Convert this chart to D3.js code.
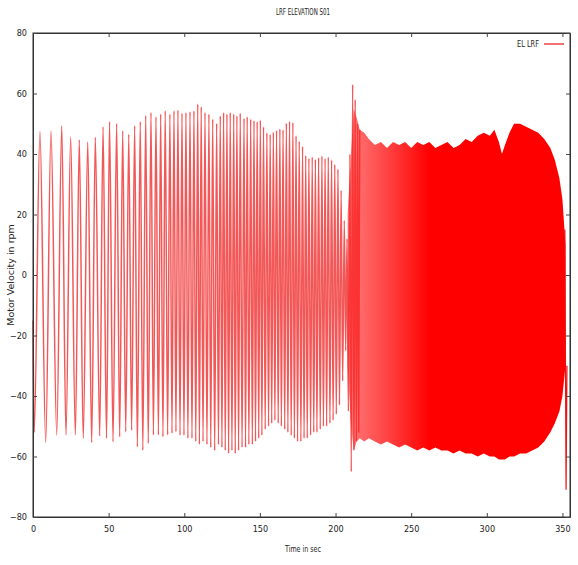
<!DOCTYPE html>
<html>
<head>
<meta charset="utf-8">
<script src="https://cdn.jsdelivr.net/npm/d3@7"></script>
<style>
  body { margin: 0; background: #fff; }
  text { font-family: "Liberation Sans Narrow", "DejaVu Sans Condensed", "Liberation Sans", sans-serif; fill: #222; }
</style>
</head>
<body>
<div id="chart"></div>
<script>
// values (time in sec, velocity in rpm)

const xTicks = [0, 50, 100, 150, 200, 250, 300, 350];
const yTicks = [-80, -60, -40, -20, 0, 20, 40, 60, 80];

// start of the trace
const startT = [0];
const startV = [-15];

// upper turning points of the sparse part
const peakT = [4.6, 11.9, 19.0, 24.9, 30.6, 36.2, 41.2, 46.3, 50.6, 55.3,
    59.3, 63.3, 67.2, 70.9, 74.5, 78.0, 81.3, 84.4, 87.4, 90.5,
    93.2, 95.8, 98.5, 101.1, 103.8, 106.4, 108.9, 111.2, 113.7, 116.3,
    118.8, 121.4, 123.8, 126.0, 128.2, 130.4, 132.7, 134.8, 137.0, 139.5,
    141.6, 143.9, 146.1, 148.2, 150.3, 152.4, 154.6, 156.8, 158.9, 161.0,
    163.2, 165.3, 167.5, 169.6, 171.8, 173.9, 176.0, 178.2, 180.3, 182.4,
    184.6, 186.7, 188.8, 191.0, 193.1, 195.2, 197.4, 199.5, 201.6, 203.7,
    205.8, 207.6, 209.5, 211.3, 213.0, 214.6, 216.0];
const peakV = [47.4, 47.6, 49.3, 45.7, 44.6, 44.0, 45.5, 49.0, 50.7, 50.1,
    47.7, 46.5, 49.3, 50.7, 52.7, 53.7, 52.3, 53.2, 54.3, 53.2,
    54.3, 54.5, 53.5, 53.7, 54.0, 54.3, 56.5, 55.6, 53.7, 53.2,
    51.5, 50.1, 52.6, 53.7, 53.2, 53.7, 53.2, 52.6, 53.5, 51.8,
    52.3, 51.5, 51.0, 50.7, 51.2, 49.0, 47.0, 46.5, 47.2, 47.8,
    48.3, 48.0, 50.2, 50.8, 50.4, 46.0, 44.2, 42.5, 39.5, 38.6,
    39.0, 38.2, 38.8, 39.3, 38.5, 39.0, 38.0, 36.5, 35.0, 28.0,
    18.0, 12.0, 40.0, 63.0, 58.0, 50.0, 48.0];

// lower turning points of the sparse part
const troughT = [0.8, 8.4, 15.7, 21.8, 28.0, 33.2, 38.8, 44.1, 48.6, 52.9,
    57.3, 61.3, 65.2, 69.0, 72.6, 76.2, 79.6, 82.9, 85.9, 89.0,
    91.9, 94.5, 97.2, 99.8, 102.4, 105.1, 107.6, 110.0, 112.4, 115.0,
    117.5, 120.1, 122.6, 124.9, 127.1, 129.3, 131.5, 133.7, 135.9, 138.2,
    140.5, 142.7, 145.0, 147.1, 149.2, 151.3, 153.5, 155.7, 157.8, 159.9,
    162.1, 164.2, 166.4, 168.5, 170.7, 172.8, 174.9, 177.1, 179.2, 181.3,
    183.5, 185.6, 187.7, 189.9, 192.0, 194.1, 196.3, 198.4, 200.5, 202.6,
    204.7, 206.7, 208.5, 210.4, 212.2, 213.8, 215.3];
const troughV = [-52.0, -55.4, -52.9, -52.9, -52.9, -54.0, -55.4, -53.2, -54.0, -55.1,
    -53.5, -51.8, -51.3, -56.8, -57.9, -55.6, -52.9, -52.9, -53.5, -52.9,
    -52.3, -51.8, -53.0, -53.0, -54.0, -54.0, -55.0, -56.0, -55.0, -56.0,
    -57.0, -58.0, -56.0, -57.0, -58.0, -59.0, -58.0, -59.0, -58.0, -57.0,
    -57.0, -56.0, -56.0, -55.0, -54.0, -53.0, -51.0, -50.0, -49.0, -48.0,
    -49.0, -50.0, -51.0, -52.0, -53.0, -54.0, -55.0, -55.0, -54.0, -54.0,
    -53.0, -52.0, -52.0, -51.0, -50.0, -50.0, -49.0, -48.0, -46.0, -43.0,
    -35.0, -25.0, -45.0, -65.0, -58.0, -55.0, -52.0];

// envelope of the dense part
const envT = [208, 210, 212, 214, 216, 219, 222, 226, 230, 234,
    238, 242, 246, 250, 254, 258, 262, 266, 270, 274,
    278, 282, 286, 290, 294, 298, 302, 305, 308, 310,
    312, 315, 318, 322, 326, 330, 334, 338, 342, 345,
    348, 350, 352];
const envHigh = [20, 38, 55, 52, 48, 47, 45, 43, 44, 42,
    44, 43, 44, 42, 44, 43, 44, 42, 43, 44,
    42, 43, 45, 44, 46, 47, 46, 48, 44, 40,
    43, 47, 50, 50, 49, 48, 47, 45, 42, 38,
    32, 25, 10];
const envLow = [-30, -48, -58, -55, -54, -55, -54, -55, -56, -55,
    -56, -57, -56, -57, -58, -57, -58, -57, -58, -58,
    -59, -58, -59, -59, -60, -59, -60, -60, -61, -61,
    -61, -60, -60, -59, -59, -58, -57, -55, -52, -49,
    -45, -40, -30];

// last swing at the right edge
const tailT = [351.6, 352.4, 353.0];
const tailV = [15, -71, -30];

const seriesName = "EL LRF";
const lineColor = "#ee1111";

const width = 578, height = 565;
const margin = {top: 33, right: 8, bottom: 48, left: 33};

const svg = d3.select("#chart").append("svg")
    .attr("width", width)
    .attr("height", height);

const x = d3.scaleLinear().domain([0, 355]).range([margin.left, width - margin.right]);
const y = d3.scaleLinear().domain([-80, 80]).range([height - margin.bottom, margin.top]);

// put the turning points together in time order
let pts = [];
startT.forEach((t, i) => pts.push([t, startV[i]]));
peakT.forEach((t, i) => pts.push([t, peakV[i]]));
troughT.forEach((t, i) => pts.push([t, troughV[i]]));
pts.sort((a, b) => a[0] - b[0]);

const env = envT.map((t, i) => ({t: t, hi: envHigh[i], lo: envLow[i]}));
const tail = tailT.map((t, i) => [t, tailV[i]]);

// fading in of the dense block
const grad = svg.append("defs").append("linearGradient")
    .attr("id", "dense")
    .attr("gradientUnits", "userSpaceOnUse")
    .attr("x1", x(208)).attr("x2", x(262))
    .attr("y1", 0).attr("y2", 0);
grad.append("stop").attr("offset", 0).attr("stop-color", "#f22").attr("stop-opacity", 0.6);
grad.append("stop").attr("offset", 1).attr("stop-color", "#f00").attr("stop-opacity", 1);

const line = d3.line()
    .x(d => x(d[0]))
    .y(d => y(d[1]))
    .curve(d3.curveMonotoneX);

svg.append("path")
    .datum(pts)
    .attr("fill", "none")
    .attr("stroke", lineColor)
    .attr("stroke-opacity", 0.7)
    .attr("stroke-width", 1.5)
    .attr("d", line);

svg.append("path")
    .datum(env)
    .attr("fill", "url(#dense)")
    .attr("d", d3.area()
        .x(d => x(d.t))
        .y0(d => y(d.lo))
        .y1(d => y(d.hi)));

svg.append("path")
    .datum(tail)
    .attr("fill", "none")
    .attr("stroke", lineColor)
    .attr("stroke-width", 1.2)
    .attr("d", d3.line().x(d => x(d[0])).y(d => y(d[1])));

// frame and inward ticks
svg.append("rect")
    .attr("x", margin.left).attr("y", margin.top)
    .attr("width", width - margin.left - margin.right)
    .attr("height", height - margin.top - margin.bottom)
    .attr("fill", "none")
    .attr("stroke", "#333");

svg.append("g")
    .attr("transform", `translate(0,${height - margin.bottom})`)
    .call(d3.axisBottom(x).tickValues(xTicks).tickSizeInner(-4).tickSizeOuter(0).tickPadding(9));
svg.append("g")
    .attr("transform", `translate(0,${margin.top})`)
    .call(d3.axisTop(x).tickValues(xTicks).tickSizeInner(-4).tickSizeOuter(0).tickFormat(""));
svg.append("g")
    .attr("transform", `translate(${margin.left},0)`)
    .call(d3.axisLeft(y).tickValues(yTicks).tickSizeInner(-4).tickSizeOuter(0).tickPadding(6));
svg.append("g")
    .attr("transform", `translate(${width - margin.right},0)`)
    .call(d3.axisRight(y).tickValues(yTicks).tickSizeInner(-4).tickSizeOuter(0).tickFormat(""));

svg.selectAll(".domain").attr("stroke", "#333");
svg.selectAll(".tick line").attr("stroke", "#444");
svg.selectAll(".tick text").attr("font-size", 9).attr("fill", "#333")
    .style("font-family", "'Liberation Sans Narrow', 'DejaVu Sans Condensed', sans-serif");

// titles
svg.append("text")
    .attr("x", 303).attr("y", 15)
    .attr("text-anchor", "middle")
    .attr("font-size", 9)
    .attr("textLength", 54).attr("lengthAdjust", "spacingAndGlyphs")
    .text("LRF ELEVATION S01");

svg.append("text")
    .attr("x", 303).attr("y", 552)
    .attr("text-anchor", "middle")
    .attr("font-size", 9)
    .attr("textLength", 36).attr("lengthAdjust", "spacingAndGlyphs")
    .text("Time in sec");

svg.append("text")
    .attr("transform", "translate(14,275) rotate(-90)")
    .attr("text-anchor", "middle")
    .attr("font-size", 9.5)
    .style("font-family", "'DejaVu Sans', sans-serif")
    .text("Motor Velocity in rpm");

// legend
svg.append("text")
    .attr("x", 539).attr("y", 47)
    .attr("text-anchor", "end")
    .attr("font-size", 9)
    .attr("textLength", 22).attr("lengthAdjust", "spacingAndGlyphs")
    .text(seriesName);
svg.append("line")
    .attr("x1", 544).attr("x2", 564)
    .attr("y1", 44).attr("y2", 44)
    .attr("stroke", lineColor)
    .attr("stroke-width", 1.2);
</script>
</body>
</html>
